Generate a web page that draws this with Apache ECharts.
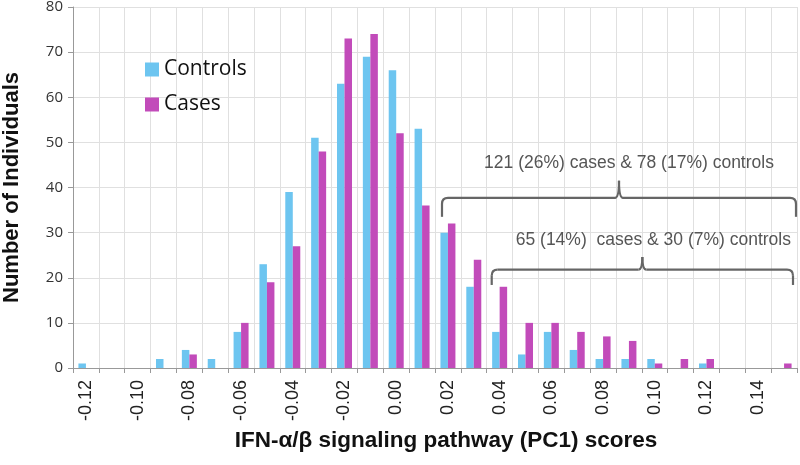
<!DOCTYPE html>
<html>
<head>
<meta charset="utf-8">
<script src="https://cdn.jsdelivr.net/npm/echarts@6/dist/echarts.min.js"></script>
<style>html,body{margin:0;padding:0;background:#fff}#c{width:800px;height:465px}</style>
</head>
<body>
<div id="c"></div>
<script>
const categories = ['-0.12','-0.11','-0.10','-0.09','-0.08','-0.07','-0.06','-0.05','-0.04','-0.03','-0.02','-0.01','0.00','0.01','0.02','0.03','0.04','0.05','0.06','0.07','0.08','0.09','0.10','0.11','0.12','0.13','0.14','0.15'];
const controls = [1,0,0,2,4,2,8,23,39,51,63,69,66,53,30,18,8,3,8,4,2,2,2,0,1,0,0,0];
const cases    = [0,0,0,0,3,0,10,19,27,48,73,74,52,36,32,24,18,10,10,8,7,6,1,2,2,0,0,1];
const seriesNames = ['Controls','Cases'];
const yTicks = [0,10,20,30,40,50,60,70,80];
const brace1Text = '121 (26%) cases & 78 (17%) controls';
const brace2Text = '65 (14%)  cases & 30 (7%) controls';

const chart = echarts.init(document.getElementById('c'), null, {renderer:'canvas'});
const option = {
  animation:false,
  backgroundColor:'#fff',
  grid:{left:73,right:3,top:7,bottom:97,containLabel:false,outerBoundsMode:'none'},
  legend:{
    orient:'vertical', left:140, top:54, itemWidth:14, itemHeight:14, itemGap:14,
    textStyle:{fontFamily:'Open Sans', fontSize:21, color:'#111'},
    icon:'rect', data:seriesNames
  },
  xAxis:{
    type:'category', data:categories,
    boundaryGap:true,
    axisLine:{lineStyle:{color:'#999'}},
    axisTick:{show:true, length:5, alignWithLabel:false, interval:0, lineStyle:{color:'#999'}},
    axisLabel:{interval:1, rotate:90, margin:12, fontFamily:'Liberation Sans', fontSize:18, color:'#222'},
    splitLine:{show:true, interval:0, lineStyle:{color:'#e0e0e0'}},
    name:'IFN-\u03b1/\u03b2 signaling pathway (PC1) scores',
    nameLocation:'middle', nameGap:60,
    nameTextStyle:{fontFamily:'Liberation Sans', fontWeight:'bold', fontSize:22.5, color:'#111', padding:[0,0,0,22]}
  },
  yAxis:{
    type:'value', min:yTicks[0], max:yTicks[yTicks.length-1], interval:10,
    axisLine:{show:true, lineStyle:{color:'#999'}},
    axisTick:{show:true, length:5, lineStyle:{color:'#999'}},
    axisLabel:{margin:10, fontFamily:'Open Sans', fontSize:15, color:'#333'},
    splitLine:{show:true, lineStyle:{color:'#e0e0e0'}},
    name:'Number of Individuals', nameLocation:'middle', nameGap:50,
    nameTextStyle:{fontFamily:'Liberation Sans', fontWeight:'bold', fontSize:22, color:'#111'}
  },
  series:[
    {name:seriesNames[0], type:'bar', data:controls, barGap:'0%', barCategoryGap:'42%', itemStyle:{color:'#6DC5F0'}},
    {name:seriesNames[1], type:'bar', data:cases, barGap:'0%', barCategoryGap:'42%', itemStyle:{color:'#C24BBA'}}
  ]
};
chart.setOption(option);

const st = {stroke:'#666', lineWidth:2.2, fill:null};
function line(x1,y1,x2,y2){ return {type:'line', shape:{x1,y1,x2,y2}, style:st, silent:true}; }
function curve(x1,y1,cx,cy,x2,y2){ return {type:'bezierCurve', shape:{x1,y1,x2,y2,cpx1:cx,cpy1:cy}, style:st, silent:true}; }
function brace(x1, x2, xm, yLine, yEnd, yPeak, text, xText, yText){
  const r = 6;
  return [
    line(x1, yEnd, x1, yLine + r),
    curve(x1, yLine + r, x1, yLine, x1 + r, yLine),
    line(x1 + r, yLine, xm - 4, yLine),
    curve(xm - 4, yLine, xm, yLine, xm, yPeak),
    curve(xm, yPeak, xm, yLine, xm + 4, yLine),
    line(xm + 4, yLine, x2 - r, yLine),
    curve(x2 - r, yLine, x2, yLine, x2, yLine + r),
    line(x2, yLine + r, x2, yEnd),
    {type:'text', x:xText, y:yText, silent:true, style:{text:text, fill:'#555', font:'17.5px "Liberation Sans"', align:'center', verticalAlign:'middle'}}
  ];
}
const px = (c)=>chart.convertToPixel({xAxisIndex:0}, c);
const py = (v)=>chart.convertToPixel({yAxisIndex:0}, v);
const catW = px(categories[1]) - px(categories[0]);
const b1x1 = px('0.02') - catW*0.5 + 7;
const b1x2 = px('0.15') + catW*0.5 - 1;
const b2x1 = px('0.04') - catW*0.5 + 5;
const b2x2 = px('0.15') + catW*0.5 - 4;
const b1m = (b1x1+b1x2)/2, b2m = (b2x1+b2x2)/2;
const g = [].concat(
  brace(b1x1, b1x2, b1m, py(37.7), py(33.5), py(41.5), brace1Text, b1m + 10, py(45.5)),
  brace(b2x1, b2x2, b2m, py(21.8), py(18.4), py(24.6), brace2Text, b2m + 11, py(28.3))
);
chart.setOption({graphic:g});
</script>
</body>
</html>
